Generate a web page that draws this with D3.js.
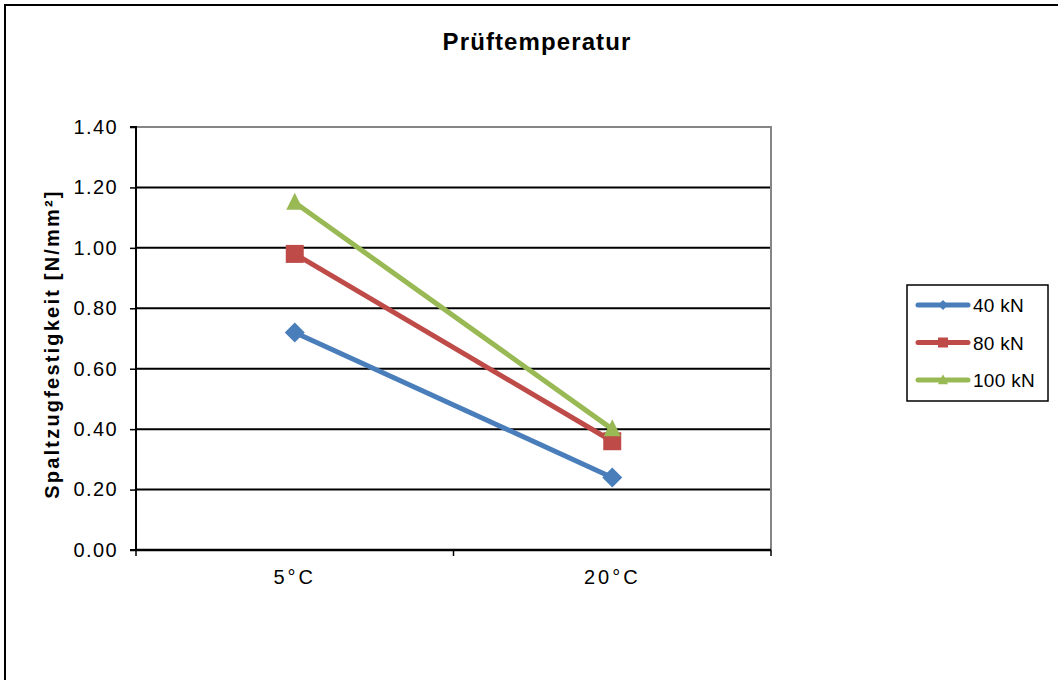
<!DOCTYPE html>
<html><head><meta charset="utf-8">
<script src="https://cdn.jsdelivr.net/npm/d3@7"></script>
<style>body{margin:0;background:#fff}svg{display:block}text{font-family:"Liberation Sans",Arial,sans-serif}</style>
</head><body><svg id="c" width="1058" height="680"></svg>
<script>
const categories = ["5°C", "20°C"];
const seriesNames = ["40 kN", "80 kN", "100 kN"];
const values40 = [0.72, 0.24];
const values80 = [0.98, 0.36];
const values100 = [1.15, 0.40];
const yTicks = [0, 0.2, 0.4, 0.6, 0.8, 1.0, 1.2, 1.4];
const colors = ["#4a7ebb", "#be4b48", "#98b954"];
const series = [values40, values80, values100];

const svg = d3.select("#c");
const L = 136, R = 771, T = 127, B = 550;
const x = d3.scaleBand().domain(categories).range([L, R]);
const y = d3.scaleLinear().domain([0, 1.4]).range([B, T]);
const FF = '"Liberation Sans",Arial,sans-serif';

// outer border
svg.append("rect").attr("x", 5).attr("y", 5).attr("width", 1070).attr("height", 700)
  .attr("fill", "none").attr("stroke", "#000").attr("stroke-width", 2);

// title
svg.append("text").attr("x", 537).attr("y", 50).attr("text-anchor", "middle")
  .attr("font-size", 24).attr("font-weight", "bold").attr("letter-spacing", 1.1).text("Prüftemperatur");

// gridlines
svg.append("g").selectAll("line").data(yTicks.filter(d => d > 0 && d < 1.4)).join("line")
  .attr("x1", L).attr("x2", R).attr("y1", d => y(d)).attr("y2", d => y(d))
  .attr("stroke", "#000").attr("stroke-width", 2);
// plot border top/right gray
svg.append("path").attr("d", `M${L},${y(1.4)}H${R}V${B}`).attr("fill", "none")
  .attr("stroke", "#858585").attr("stroke-width", 2);

// y axis
const yAxis = d3.axisLeft(y).tickValues(yTicks).tickFormat(d3.format(".2f")).tickSize(6).tickPadding(12);
const gy = svg.append("g").attr("transform", `translate(${L},0)`).call(yAxis);
gy.select(".domain").attr("stroke", "#000").attr("stroke-width", 2).attr("d", `M-6,${T}H0V${B}H-6`);
gy.selectAll(".tick line").attr("stroke", "#000").attr("stroke-width", 1.5);
gy.selectAll(".tick text").attr("font-size", 20).attr("fill", "#000").attr("letter-spacing", 1.4)
  .style("font-family", FF);

// x axis
const xAxis = d3.axisBottom(x).tickSize(0).tickPadding(20);
const gx = svg.append("g").attr("transform", `translate(0,${B})`).call(xAxis);
gx.select(".domain").attr("stroke", "#000").attr("stroke-width", 2.5).attr("d", `M${L},0H${R}`);
gx.selectAll(".tick text").attr("font-size", 20).attr("fill", "#000").attr("letter-spacing", 3)
  .style("font-family", FF);
const bounds = [L, (L + R) / 2, R];
svg.append("g").selectAll("line").data(bounds).join("line")
  .attr("x1", d => d).attr("x2", d => d).attr("y1", B).attr("y2", B + 6)
  .attr("stroke", "#000").attr("stroke-width", 1.5);

// y label
svg.append("text").attr("transform", `translate(59,344) rotate(-90)`)
  .attr("text-anchor", "middle").attr("font-size", 20).attr("font-weight", "bold")
  .attr("letter-spacing", 2.2).text("Spaltzugfestigkeit [N/mm²]");

const cx = d => x(d) + x.bandwidth() / 2;
const line = d3.line().x((d, i) => cx(categories[i])).y(d => y(d));

function marker(si, s) {
  if (si === 0) return `M0,${-s}L${s},0L0,${s}L${-s},0Z`;
  if (si === 1) return `M${-s},${-s}H${s}V${s}H${-s}Z`;
  return `M0,${-s * 1.15}L${s},${s * 0.85}H${-s}Z`;
}
const mSizes = [10, 9, 8.5];

series.forEach((vals, si) => {
  svg.append("path").datum(vals).attr("d", line).attr("fill", "none")
    .attr("stroke", colors[si]).attr("stroke-width", 5);
});
series.forEach((vals, si) => {
  svg.append("g").selectAll("path").data(vals).join("path")
    .attr("transform", (d, i) => `translate(${cx(categories[i])},${y(d)})`)
    .attr("d", marker(si, mSizes[si])).attr("fill", colors[si]);
});

// legend
const lg = svg.append("g");
lg.append("rect").attr("x", 907).attr("y", 285).attr("width", 141).attr("height", 116)
  .attr("fill", "#fff").attr("stroke", "#000").attr("stroke-width", 1.5);
seriesNames.forEach((n, i) => {
  const yy = 305 + i * 37.5;
  lg.append("line").attr("x1", 918).attr("x2", 968).attr("y1", yy).attr("y2", yy)
    .attr("stroke", colors[i]).attr("stroke-width", 5).attr("stroke-linecap", "round");
  lg.append("path").attr("transform", `translate(943,${yy})`)
    .attr("d", marker(i, 5)).attr("fill", colors[i]);
  lg.append("text").attr("x", 973).attr("y", yy + 7).attr("font-size", 19).attr("letter-spacing", 0.3).text(n);
});
</script></body></html>
